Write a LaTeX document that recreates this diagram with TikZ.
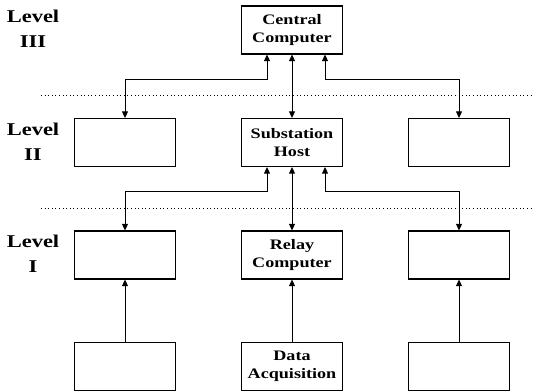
\documentclass[tikz,border=0pt]{standalone}
\usepackage{fontspec}
\setmainfont{Liberation Serif}
\newfontfamily\boxfont[FakeStretch=1.25]{Liberation Serif}
\usetikzlibrary{arrows.meta}
\begin{document}
\begin{tikzpicture}[x=1pt,y=-1pt,
  unit/.style={draw,line width=1.2pt,minimum width=101pt,minimum height=48pt,
    inner sep=0pt,align=center,font=\boxfont\fontsize{14.5}{18}\selectfont\bfseries},
  levellab/.style={align=center,font=\boxfont\fontsize{18}{25}\selectfont\bfseries},
  tip/.tip={Triangle[length=6.5pt,width=6pt]},
  link/.style={line width=1pt,tip-tip},
  uplink/.style={line width=1pt,-tip},
  sep/.style={line width=1pt,dash pattern=on 1pt off 2.6pt}]
\useasboundingbox (0,0) rectangle (534,391);

% level labels
\node[levellab] (lab3) at (33,29) {Level\\III};
\node[levellab] (lab2) at (33,142) {Level\\II};
\node[levellab] (lab1) at (33,254) {Level\\I};

% level III
\node[unit] (cc) at (292,30) {Central\\Computer};

% level II
\node[unit] (l2) at (125,142.5) {};
\node[unit] (sh) at (292,142.5) {Substation\\Host};
\node[unit] (r2) at (459,142.5) {};

% level I
\node[unit] (l1) at (125,255) {};
\node[unit] (rc) at (292,255) {Relay\\Computer};
\node[unit] (r1) at (459,255) {};

% acquisition units
\node[unit] (l0) at (125,366.5) {};
\node[unit] (da) at (292,366.5) {Data\\Acquisition};
\node[unit] (r0) at (459,366.5) {};

% level separators
\draw[sep] (41,95) -- (534,95);
\draw[sep] (41,208) -- (534,208);

% level III <-> level II
\draw[link] ([xshift=-25pt]cc.south) -- ++(0,25) -| (l2.north);
\draw[link] (cc.south) -- (sh.north);
\draw[link] ([xshift=33pt]cc.south) -- ++(0,25) -| (r2.north);

% level II <-> level I
\draw[link] ([xshift=-25pt]sh.south) -- ++(0,24) -| (l1.north);
\draw[link] (sh.south) -- (rc.north);
\draw[link] ([xshift=33pt]sh.south) -- ++(0,24) -| (r1.north);

% acquisition -> level I
\draw[uplink] (l0.north) -- (l1.south);
\draw[uplink] (da.north) -- (rc.south);
\draw[uplink] (r0.north) -- (r1.south);
\end{tikzpicture}
\end{document}
